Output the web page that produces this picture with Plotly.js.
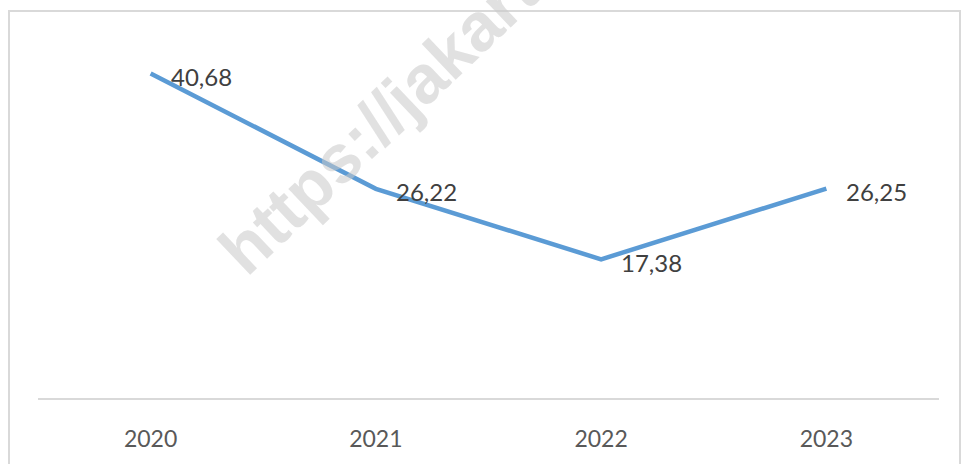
<!DOCTYPE html>
<html>
<head>
<meta charset="utf-8">
<script src="https://cdn.plot.ly/plotly-3.0.1.min.js"></script>
<style>
  html, body { margin: 0; padding: 0; background: #ffffff; overflow: hidden; }
  #chart { width: 962px; height: 464px; }
</style>
</head>
<body>
<div id="chart"></div>
<script>
const years = ["2020", "2021", "2022", "2023"];
const values = [40.68, 26.22, 17.38, 26.25];
const valueLabels = ["40,68", "26,22", "17,38", "26,25"];
const watermarkText = "https://jakarta";

const W = 962, H = 464;
const margin = { l: 38, r: 23, t: 39, b: 66 };
const pw = W - margin.l - margin.r;
const ph = H - margin.t - margin.b;
// frame from pixel coords to paper coords
function px(x) { return (x - margin.l) / pw; }
function py(y) { return (H - margin.b - y) / ph; }

const trace = {
  x: years,
  y: values,
  type: "scatter",
  mode: "lines",
  line: { color: "#5B9BD5", width: 4.5, shape: "linear" },
  hoverinfo: "skip",
  showlegend: false
};

// on a category axis, annotation x is the category's index
const annotations = years.map((yr, i) => ({
  x: i,
  y: values[i],
  xref: "x",
  yref: "y",
  text: valueLabels[i],
  showarrow: false,
  xanchor: "left",
  yanchor: "middle",
  xshift: 18,
  yshift: -3,
  font: { family: "Lato, 'Open Sans', sans-serif", size: 24, color: "#404040" }
}));

annotations.push({
  x: px(392),
  y: py(107),
  xref: "paper",
  yref: "paper",
  text: "<b>" + watermarkText + "</b>",
  showarrow: false,
  xanchor: "center",
  yanchor: "middle",
  textangle: -43.5,
  font: { family: "'Liberation Sans', Arial, sans-serif", size: 68, color: "rgba(200,200,200,0.55)" }
});

const layout = {
  width: W,
  height: H,
  margin: margin,
  paper_bgcolor: "#ffffff",
  plot_bgcolor: "#ffffff",
  xaxis: {
    type: "category",
    range: [-0.5, 3.5],
    showgrid: false,
    zeroline: false,
    showline: true,
    linecolor: "#d9d9d9",
    linewidth: 1.5,
    ticks: "",
    ticklabelstandoff: 20,
    tickfont: { family: "Lato, 'Open Sans', sans-serif", size: 23, color: "#595959" },
    fixedrange: true
  },
  yaxis: {
    range: [0, 45],
    showgrid: false,
    zeroline: false,
    showline: false,
    showticklabels: false,
    ticks: "",
    fixedrange: true
  },
  annotations: annotations,
  shapes: [{
    type: "rect",
    xref: "paper",
    yref: "paper",
    x0: px(9),
    x1: px(960),
    y0: py(470),
    y1: py(11),
    line: { color: "#d9d9d9", width: 2 },
    fillcolor: "rgba(0,0,0,0)",
    layer: "above"
  }]
};

Plotly.newPlot("chart", [trace], layout, { staticPlot: true, displayModeBar: false });
</script>
</body>
</html>
